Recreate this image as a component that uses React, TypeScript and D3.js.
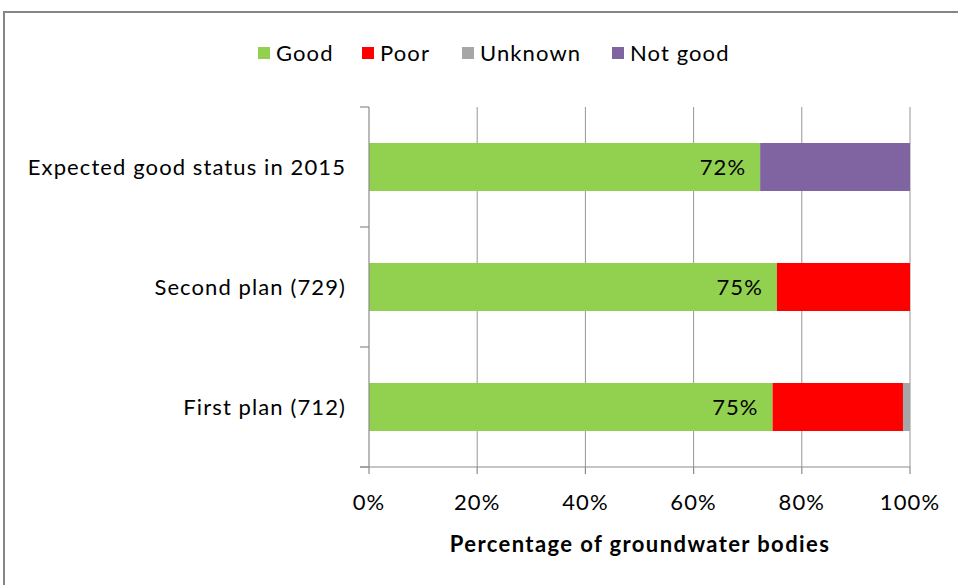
import React, { useEffect, useRef } from 'react';
import * as d3 from 'd3';

const categories = ['Expected good status in 2015', 'Second plan (729)', 'First plan (712)'];
const seriesNames = ['Good', 'Poor', 'Unknown', 'Not good'];
const seriesColors = ['#92D050', '#FF0000', '#A6A6A6', '#8064A2'];
const good = [72.3, 75.4, 74.6];
const poor = [0, 24.6, 24.1];
const unknown = [0, 0, 1.3];
const notGood = [27.7, 0, 0];
const xTicks = [0, 20, 40, 60, 80, 100];

const FONT = 'Lato, "Open Sans", sans-serif';
const LS = 1.1; // letter spacing to approximate Calibri widths

const App: React.FC = () => {
  const svgRef = useRef<SVGSVGElement>(null);

  useEffect(() => {
    if (!svgRef.current) return;
    const width = 958;
    const height = 585;
    const svg = d3.select(svgRef.current);
    svg.selectAll('*').remove();
    svg.attr('width', width).attr('height', height);

    // outer frame
    svg.append('rect')
      .attr('x', 4).attr('y', 12)
      .attr('width', 1000).attr('height', 620)
      .attr('fill', '#fff')
      .attr('stroke', '#868686')
      .attr('stroke-width', 2);

    const x = d3.scaleLinear().domain([0, 100]).range([369, 910]);
    const y = d3.scaleBand<string>()
      .domain(categories)
      .range([107, 467])
      .paddingInner(0.6)
      .paddingOuter(0.3);

    const rows = categories.map((c, i) => ({
      cat: c,
      Good: good[i],
      Poor: poor[i],
      Unknown: unknown[i],
      'Not good': notGood[i],
    }));
    const stacked = d3.stack<any>().keys(seriesNames)(rows);

    // gridlines
    svg.append('g')
      .selectAll('line')
      .data(xTicks.slice(1))
      .join('line')
      .attr('x1', d => x(d)).attr('x2', d => x(d))
      .attr('y1', 107).attr('y2', 467)
      .attr('stroke', '#969696')
      .attr('stroke-width', 1);

    // bars
    const color = d3.scaleOrdinal<string, string>().domain(seriesNames).range(seriesColors);
    svg.append('g')
      .selectAll('g')
      .data(stacked)
      .join('g')
      .attr('fill', d => color(d.key))
      .selectAll('rect')
      .data(d => d)
      .join('rect')
      .attr('x', d => x(d[0]))
      .attr('y', d => y(d.data.cat)!)
      .attr('width', d => x(d[1]) - x(d[0]))
      .attr('height', y.bandwidth());

    // value labels (inside end of Good)
    svg.append('g')
      .selectAll('text')
      .data(rows)
      .join('text')
      .attr('x', d => x(d.Good) - 14)
      .attr('y', d => y(d.cat)! + y.bandwidth() / 2)
      .attr('dy', '0.36em')
      .attr('text-anchor', 'end')
      .attr('font-family', FONT)
      .attr('font-size', 22)
      .attr('letter-spacing', LS)
      .attr('fill', '#000')
      .text(d => `${Math.round(d.Good)}%`);

    // y axis
    const axisColor = '#8c8c8c';
    svg.append('line')
      .attr('x1', 369).attr('x2', 369)
      .attr('y1', 107).attr('y2', 467)
      .attr('stroke', axisColor).attr('stroke-width', 1.2);
    const yTickPos = [107, ...categories.map(c => y(c)! + y.bandwidth() + (y.step() - y.bandwidth()) / 2)];
    svg.append('g')
      .selectAll('line')
      .data(yTickPos)
      .join('line')
      .attr('x1', 360).attr('x2', 369)
      .attr('y1', d => d).attr('y2', d => d)
      .attr('stroke', axisColor).attr('stroke-width', 1.2);
    svg.append('g')
      .selectAll('text')
      .data(categories)
      .join('text')
      .attr('x', 346)
      .attr('y', d => y(d)! + y.bandwidth() / 2)
      .attr('dy', '0.36em')
      .attr('text-anchor', 'end')
      .attr('font-family', FONT)
      .attr('font-size', 22)
      .attr('letter-spacing', LS)
      .attr('fill', '#000')
      .text(d => d);

    // x axis
    svg.append('line')
      .attr('x1', 360).attr('x2', 910)
      .attr('y1', 467).attr('y2', 467)
      .attr('stroke', axisColor).attr('stroke-width', 1.2);
    svg.append('g')
      .selectAll('line')
      .data(xTicks)
      .join('line')
      .attr('x1', d => x(d)).attr('x2', d => x(d))
      .attr('y1', 467).attr('y2', 474)
      .attr('stroke', axisColor).attr('stroke-width', 1.2);
    svg.append('g')
      .selectAll('text')
      .data(xTicks)
      .join('text')
      .attr('x', d => x(d))
      .attr('y', 510)
      .attr('text-anchor', 'middle')
      .attr('font-family', FONT)
      .attr('font-size', 22)
      .attr('letter-spacing', LS)
      .attr('fill', '#000')
      .text(d => `${d}%`);

    svg.append('text')
      .attr('x', 640)
      .attr('y', 552)
      .attr('text-anchor', 'middle')
      .attr('font-family', FONT)
      .attr('font-size', 22)
      .attr('font-weight', 'bold')
      .attr('letter-spacing', 1.4)
      .attr('fill', '#000')
      .text('Percentage of groundwater bodies');

    // legend
    const legendX = [258, 362, 462, 612];
    const legend = svg.append('g')
      .selectAll('g')
      .data(seriesNames)
      .join('g')
      .attr('transform', (d, i) => `translate(${legendX[i]},53)`);
    legend.append('rect')
      .attr('x', 0).attr('y', -6)
      .attr('width', 12).attr('height', 12)
      .attr('fill', d => color(d));
    legend.append('text')
      .attr('x', 18)
      .attr('y', 0)
      .attr('dy', '0.36em')
      .attr('font-family', FONT)
      .attr('font-size', 22)
      .attr('letter-spacing', LS)
      .attr('fill', '#000')
      .text(d => d);
  }, []);

  return (
    <svg
      ref={svgRef}
      style={{ position: 'absolute', left: 0, top: 0, display: 'block' }}
    />
  );
};

export default App;
